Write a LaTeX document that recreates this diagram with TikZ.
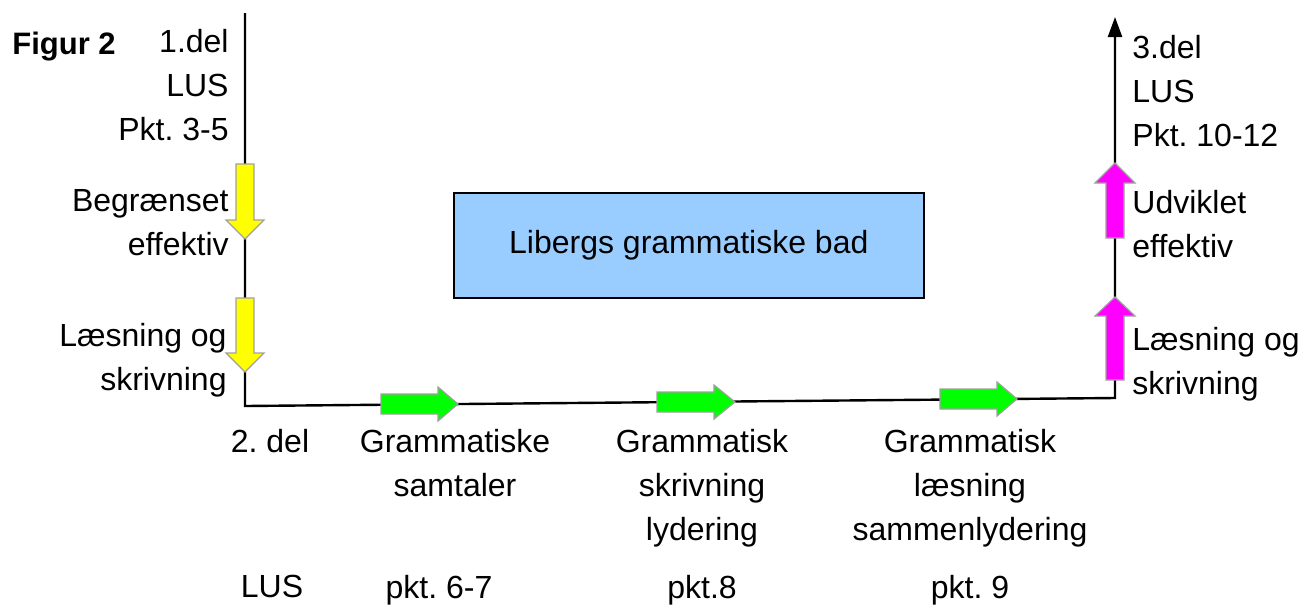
\documentclass[tikz,border=0pt]{standalone}
\usepackage{fontspec}
\setmainfont{Liberation Sans}
\usetikzlibrary{arrows.meta}
\definecolor{boxblue}{HTML}{99CCFF}
\definecolor{arrowedge}{HTML}{A0A0A0}
\definecolor{ayellow}{HTML}{FFFF00}
\definecolor{agreen}{HTML}{00FF00}
\definecolor{amagenta}{HTML}{FF00FF}
\frenchspacing
\tikzset{
  lbl/.style={inner sep=0pt, font=\fontsize{16}{22}\selectfont},
  axis/.style={line width=1.2pt, black},
  yelarrow/.style={fill=ayellow, draw=arrowedge, line width=0.6pt},
  grnarrow/.style={fill=agreen, draw=arrowedge, line width=0.6pt},
  magarrow/.style={fill=amagenta, draw=arrowedge, line width=0.6pt},
}
\begin{document}
\begin{tikzpicture}[x=0.5pt, y=-0.5pt]
\useasboundingbox (0,0) rectangle (1299,606);
% axes
\coordinate (lt) at (245,13);
\coordinate (lb) at (245,406);
\coordinate (rb) at (1115,398);
\coordinate (rt) at (1115,17);
\draw[axis, -{Triangle[length=10pt,width=7pt]}] (lt) -- (lb) -- (rb) -- (rt);
% yellow arrows (down)
\path[yelarrow] (236,164) -- (254,164) -- (254,220) -- (264,220) -- (245,239) -- (226,220) -- (236,220) -- cycle;
\path[yelarrow] (236,298) -- (254,298) -- (254,353) -- (264,353) -- (245,372) -- (226,353) -- (236,353) -- cycle;
% magenta arrows (up)
\path[magarrow] (1106,238) -- (1106,183) -- (1095,183) -- (1115,163) -- (1135,183) -- (1124,183) -- (1124,238) -- cycle;
\path[magarrow] (1106,380) -- (1106,316) -- (1095,316) -- (1115,297) -- (1135,316) -- (1124,316) -- (1124,380) -- cycle;
% green arrows (right)
\path[grnarrow] (381,394) -- (438,394) -- (438,387) -- (458,404) -- (438,421) -- (438,414) -- (381,414) -- cycle;
\path[grnarrow] (657,392) -- (714,392) -- (714,385) -- (735,402) -- (714,419) -- (714,412) -- (657,412) -- cycle;
\path[grnarrow] (940,389) -- (997,389) -- (997,382) -- (1017,399) -- (997,416) -- (997,409) -- (940,409) -- cycle;
% box
\node[draw=black, line width=0.8pt, fill=boxblue, minimum width=235pt, minimum height=52.5pt, anchor=north west, inner sep=0pt] (box) at (453,192) {};
\node[lbl] (boxtext) at (box.center) {Libergs grammatiske bad};
% title
\node[inner sep=0pt, anchor=base west, font=\fontsize{15.5}{18}\selectfont\bfseries] (title) at (12,54) {Figur 2};
% left labels
\node[lbl, align=right, anchor=north east] (del1) at (229,29) {1.del\\LUS\\Pkt. 3-5};
\node[lbl, align=right, anchor=north east] (begr) at (229,189) {Begrænset\\effektiv};
\node[lbl, align=right, anchor=north east] (laesL) at (227,323) {Læsning og\\skrivning};
% right labels
\node[lbl, align=left, anchor=north west] (del3) at (1132,35) {3.del\\LUS\\Pkt. 10-12};
\node[lbl, align=left, anchor=north west] (udv) at (1132,190) {Udviklet\\effektiv};
\node[lbl, align=left, anchor=north west] (laesR) at (1132,327) {Læsning og\\skrivning};
% bottom labels
\node[lbl, align=center, anchor=north] (del2) at (270,429) {2. del};
\node[lbl, align=center, anchor=north] (gs) at (455,429) {Grammatiske\\samtaler};
\node[lbl, align=center, anchor=north] (gsk) at (702,429) {Grammatisk\\skrivning\\lydering};
\node[lbl, align=center, anchor=north] (gl) at (970,429) {Grammatisk\\læsning\\sammenlydering};
% bottom row
\node[lbl, anchor=north] (lus) at (272,575) {LUS};
\node[lbl, anchor=north] (p67) at (439,575) {pkt. 6-7};
\node[lbl, anchor=north] (p8) at (702,575) {pkt.8};
\node[lbl, anchor=north] (p9) at (970,575) {pkt. 9};
\end{tikzpicture}
\end{document}
